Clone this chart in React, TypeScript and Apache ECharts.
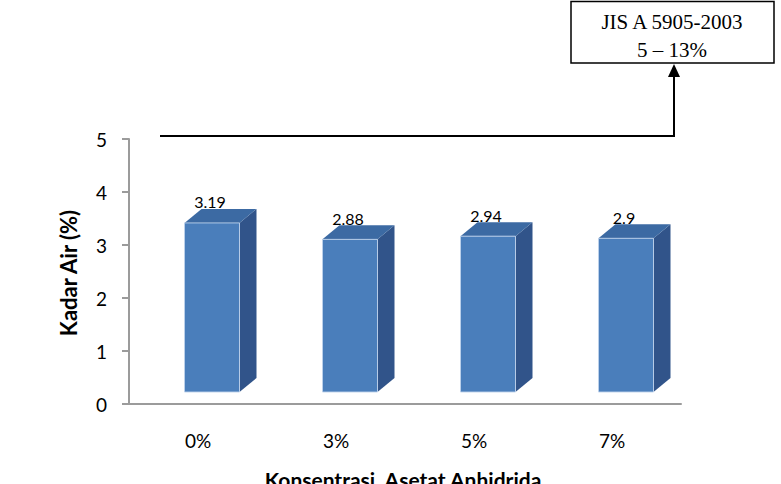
import React, { useEffect, useRef } from "react";
import * as echarts from "echarts";

const categories = ["0%", "3%", "5%", "7%"];
const kadarAir = [3.19, 2.88, 2.94, 2.9];
const yMin = 0;
const yMax = 5;
const yInterval = 1;
const xTitle = "Konsentrasi  Asetat Anhidrida";
const yTitle = "Kadar Air (%)";
const standardLines = ["JIS A 5905-2003", "5 \u2013 13%"];

const FRONT = "#4a7ebb";
const TOP = "#3c6aa3";
const SIDE = "#31548a";

export default function App() {
  const ref = useRef<HTMLDivElement>(null);
  useEffect(() => {
    if (!ref.current) return;
    const chart = echarts.init(ref.current, null, { renderer: "svg" });
    const depthX = 17;
    const depthY = -14;
    const option: any = {
      animation: false,
      backgroundColor: "#ffffff",
      grid: { left: 129, right: 100, top: 139, bottom: 80, containLabel: false },
      xAxis: {
        type: "category",
        data: categories,
        axisLine: { show: true, lineStyle: { color: "#9b9b9b", width: 2 } },
        axisTick: { show: false },
        axisLabel: {
          margin: 27,
          fontFamily: "Lato",
          fontSize: 19,
          color: "#000",
        },
        splitLine: { show: false },
      },
      yAxis: {
        type: "value",
        min: yMin,
        max: yMax,
        interval: yInterval,
        axisLine: { show: true, lineStyle: { color: "#9b9b9b", width: 2 } },
        axisTick: { show: true, inside: false, length: 7, lineStyle: { color: "#9b9b9b", width: 2 } },
        axisLabel: { margin: 22, fontFamily: "Lato", fontSize: 19, color: "#000" },
        splitLine: { show: false },
      },
      series: [
        {
          type: "custom",
          clip: false,
          data: kadarAir.map((v, i) => [i, v]),
          encode: { x: 0, y: 1 },
          renderItem: (params: any, api: any) => {
            const i = api.value(0);
            const v = api.value(1);
            const base = api.coord([i, 0]);
            const top = api.coord([i, v]);
            const h = base[1] - top[1];
            const cx = base[0] + 14;
            const w = 55;
            const x0 = cx - w / 2;
            const fb = base[1] - 12;
            const ft = fb - h;
            return {
              type: "group",
              children: [
                {
                  type: "polygon",
                  shape: {
                    points: [
                      [x0 + w, ft],
                      [x0 + w + depthX, ft + depthY],
                      [x0 + w + depthX, fb + depthY],
                      [x0 + w, fb],
                    ],
                  },
                  style: { fill: SIDE },
                },
                {
                  type: "polygon",
                  shape: {
                    points: [
                      [x0, ft],
                      [x0 + depthX, ft + depthY],
                      [x0 + w + depthX, ft + depthY],
                      [x0 + w, ft],
                    ],
                  },
                  style: { fill: TOP },
                },
                {
                  type: "rect",
                  shape: { x: x0, y: ft, width: w, height: h },
                  style: {
                    fill: FRONT,
                    stroke: "rgba(190,210,235,0.9)",
                    lineWidth: 1,
                  },
                },
                {
                  type: "text",
                  x: cx - 2,
                  y: ft + depthY - 7,
                  style: {
                    text: String(v),
                    fontFamily: "Lato",
                    fontSize: 16,
                    fill: "#000",
                    align: "center",
                    verticalAlign: "middle",
                  },
                },
              ],
            };
          },
        },
      ],
      graphic: [
        {
          type: "line",
          shape: { x1: 160, y1: 136, x2: 675, y2: 136 },
          style: { stroke: "#000", lineWidth: 2 },
        },
        {
          type: "line",
          shape: { x1: 674, y1: 137, x2: 674, y2: 75 },
          style: { stroke: "#000", lineWidth: 2 },
        },
        {
          type: "polygon",
          shape: { points: [[674, 64], [668, 77], [680, 77]] },
          style: { fill: "#000" },
        },
        {
          type: "rect",
          shape: { x: 571, y: 1.5, width: 203, height: 61.5 },
          style: { fill: "#fff", stroke: "#000", lineWidth: 1.5 },
        },
        {
          type: "text",
          x: 672,
          y: 22,
          style: {
            text: standardLines[0],
            fontFamily: "Liberation Serif",
            fontSize: 21,
            fill: "#000",
            align: "center",
            verticalAlign: "middle",
          },
        },
        {
          type: "text",
          x: 672,
          y: 50,
          style: {
            text: standardLines[1],
            fontFamily: "Liberation Serif",
            fontSize: 21,
            fill: "#000",
            align: "center",
            verticalAlign: "middle",
          },
        },
        {
          type: "text",
          x: 68,
          y: 273,
          rotation: Math.PI / 2,
          style: {
            text: yTitle,
            fontFamily: "Lato",
            fontWeight: "bold",
            fontSize: 22,
            fill: "#000",
            align: "center",
            verticalAlign: "middle",
          },
        },
        {
          type: "text",
          x: 403,
          y: 479,
          style: {
            text: xTitle,
            fontFamily: "Lato",
            fontWeight: "bold",
            fontSize: 21,
            fill: "#000",
            align: "center",
            verticalAlign: "middle",
          },
        },
      ],
    };
    chart.setOption(option);
    return () => chart.dispose();
  }, []);
  return <div ref={ref} style={{ width: 781, height: 484, position: "absolute", left: 0, top: 0 }} />;
}
